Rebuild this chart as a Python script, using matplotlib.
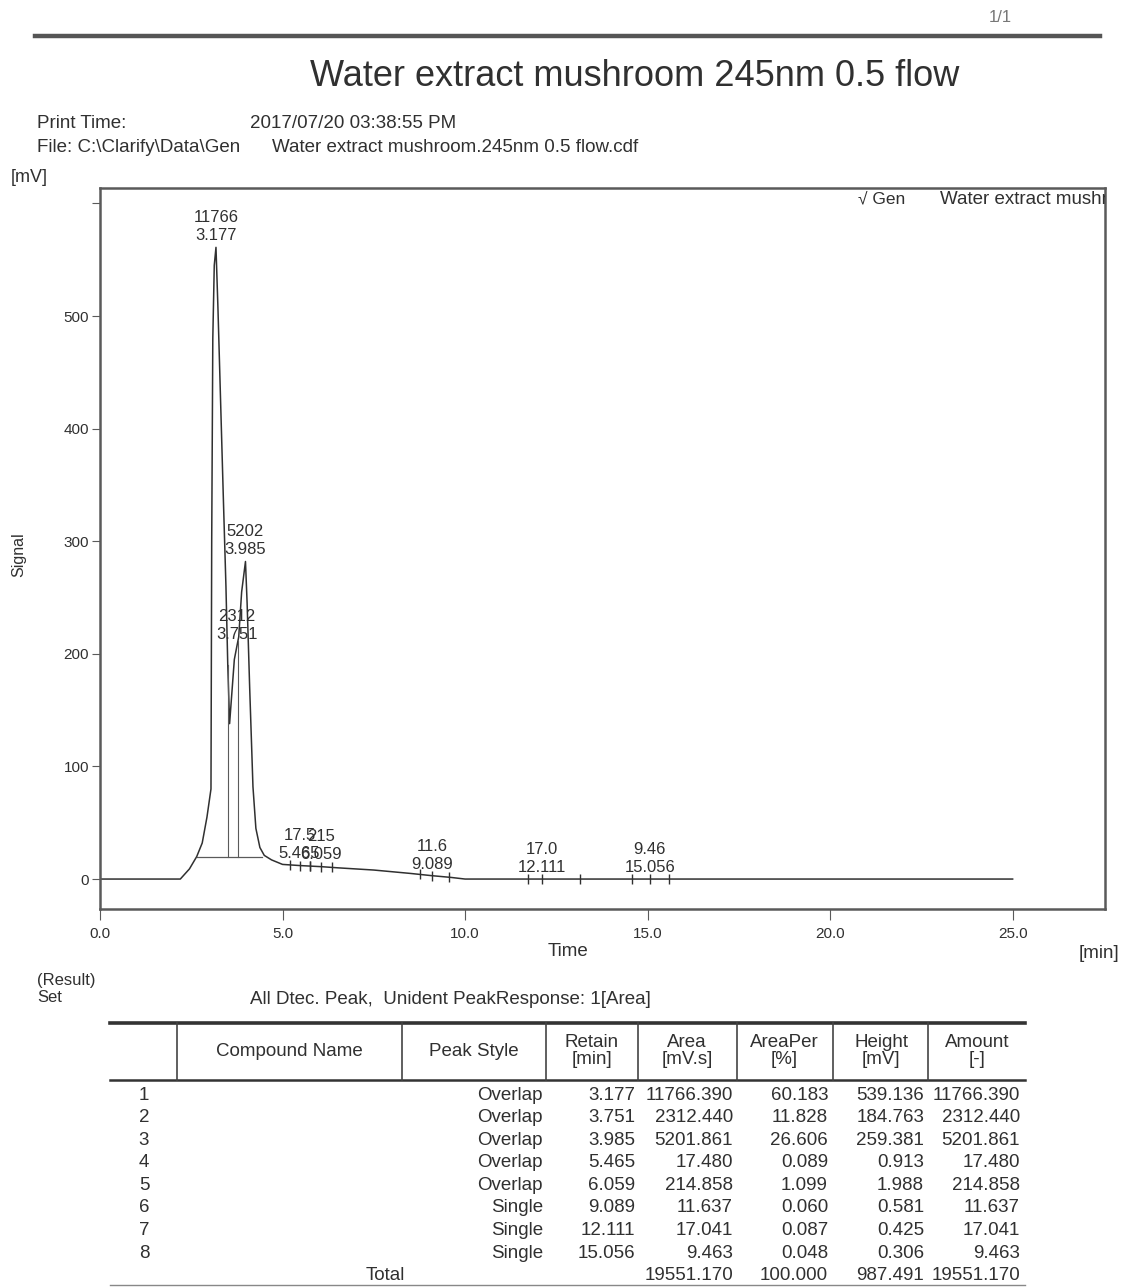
import matplotlib.pyplot as plt
import numpy as np

plt.rcParams['font.family'] = ['Liberation Sans', 'DejaVu Sans']

W, H = 1127, 1287

# chromatogram trace (min, mV)
trace_t = [0.0, 2.2, 2.45, 2.65, 2.8, 2.93, 3.04, 3.06, 3.09, 3.13, 3.177, 3.23,
           3.28, 3.33, 3.38, 3.45, 3.5, 3.55, 3.6, 3.68, 3.751, 3.8, 3.88, 3.985,
           4.03, 4.1, 4.19, 4.27, 4.38, 4.5, 4.7, 5.0, 5.465, 6.059, 6.5, 7.5,
           8.5, 9.089, 9.6, 10.0, 25.0]
trace_s = [0, 0, 9, 20, 32, 55, 80, 300, 480, 545, 561, 508,
           451, 394, 337, 260, 190, 138, 160, 195, 207, 215, 255, 282,
           245, 170, 82, 45, 28, 21, 17, 13, 12, 11, 10, 8,
           5, 3, 1.5, 0, 0]

# peak table
peak_no = [1, 2, 3, 4, 5, 6, 7, 8]
peak_style = ['Overlap', 'Overlap', 'Overlap', 'Overlap', 'Overlap', 'Single', 'Single', 'Single']
retain = [3.177, 3.751, 3.985, 5.465, 6.059, 9.089, 12.111, 15.056]
area = [11766.390, 2312.440, 5201.861, 17.480, 214.858, 11.637, 17.041, 9.463]
area_per = [60.183, 11.828, 26.606, 0.089, 1.099, 0.060, 0.087, 0.048]
height = [539.136, 184.763, 259.381, 0.913, 1.988, 0.581, 0.425, 0.306]
amount = [11766.390, 2312.440, 5201.861, 17.480, 214.858, 11.637, 17.041, 9.463]
totals = ['19551.170', '100.000', '987.491', '19551.170']

# integration marks
base_start, base_end, base_level = 2.65, 4.45, 20
drop_t = [3.50, 3.78]
small_bounds = [(5.2, 5.75), (5.75, 6.35), (8.77, 9.56), (11.73, 13.15), (14.58, 15.59)]
small_rt = [5.465, 6.059, 9.089, 12.111, 15.056]

ink = '#303030'
grey = '#5a5a5a'
fs = 13.5


def fx(px):
    return px / W


def fy(py):
    return 1 - py / H


def short(a):
    if a >= 1000:
        return '{:.0f}'.format(a)
    return '{:#.3g}'.format(a).rstrip('.')


fig = plt.figure(figsize=(W / 100, H / 100), dpi=100)

# page header
fig.text(fx(1000), fy(18), '1/1', fontsize=12, color='#777', ha='center', va='center')
fig.add_artist(plt.Line2D([fx(35), fx(1100)], [fy(36), fy(36)], transform=fig.transFigure,
                          color='#555', lw=3.2))
fig.text(fx(635), fy(77), 'Water extract mushroom 245nm 0.5 flow', fontsize=26, color=ink,
         ha='center', va='center')
fig.text(fx(37), fy(123), 'Print Time:', fontsize=fs, color=ink, va='center')
fig.text(fx(250), fy(123), '2017/07/20 03:38:55 PM', fontsize=fs, color=ink, va='center')
fig.text(fx(37), fy(147), 'File: C:\\Clarify\\Data\\Gen', fontsize=fs, color=ink, va='center')
fig.text(fx(272), fy(147), 'Water extract mushroom.245nm 0.5 flow.cdf', fontsize=fs, color=ink,
         va='center')
fig.text(fx(11), fy(177), '[mV]', fontsize=13, color=ink, va='center')
fig.text(fx(19), fy(555), 'Signal', fontsize=11.5, color=ink, va='center', ha='center', rotation=90)

# chromatogram
ax = fig.add_axes([fx(100), fy(909), fx(1105) - fx(100), fy(188) - fy(909)])
ax.plot(trace_t, trace_s, color=ink, lw=1.1)
ax.set_xlim(0, 27.53)
ax.set_ylim(-26.6, 613.7)

ax.plot([base_start, base_end], [base_level, base_level], color=grey, lw=0.9)
for t in drop_t:
    ax.plot([t, t], [base_level, np.interp(t, trace_t, trace_s)], color=grey, lw=0.8)

for (a, b), r in zip(small_bounds, small_rt):
    for t in (a, r, b):
        ax.plot(t, np.interp(t, trace_t, trace_s), marker='|', ms=7, mew=1.0, color=ink)

for r, a in zip(retain, area):
    top = np.interp(r, trace_t, trace_s)
    ax.annotate(short(a) + '\n' + '{:.3f}'.format(r), (r, top), xytext=(0, 3),
                textcoords='offset points', ha='center', va='bottom', fontsize=12,
                color=ink, linespacing=1.25)

ax.text(fx(858), fy(199), '\u221a Gen', transform=fig.transFigure, fontsize=12.5, color=ink,
        va='center', clip_on=True)
ax.text(fx(940), fy(199), 'Water extract mushroom 245nm 0.5 flow', transform=fig.transFigure,
        fontsize=13.5, color=ink, va='center', clip_on=True)

ax.set_xticks([0, 5, 10, 15, 20, 25])
ax.set_xticklabels(['0.0', '5.0', '10.0', '15.0', '20.0', '25.0'])
ax.set_yticks([0, 100, 200, 300, 400, 500, 600])
ax.set_yticklabels(['0', '100', '200', '300', '400', '500', ''])
ax.tick_params(axis='both', direction='out', colors=grey, labelcolor=ink, labelsize=11)
ax.tick_params(axis='x', length=8, pad=5)
ax.tick_params(axis='y', length=6, pad=2)
for s in ax.spines.values():
    s.set_color(grey)
    s.set_linewidth(1.8)

fig.text(fx(568), fy(952), 'Time', fontsize=fs, color=ink, ha='center', va='center')
fig.text(fx(1099), fy(953), '[min]', fontsize=fs, color=ink, ha='center', va='center')

# result block
fig.text(fx(37), fy(981), '(Result)', fontsize=12, color=ink, va='center')
fig.text(fx(37), fy(998), 'Set', fontsize=12, color=ink, va='center')
fig.text(fx(250), fy(999), 'All Dtec. Peak,  Unident PeakResponse: 1[Area]', fontsize=fs,
         color=ink, va='center')


def hline(y, x0, x1, lw, c='#333'):
    fig.add_artist(plt.Line2D([fx(x0), fx(x1)], [fy(y), fy(y)], transform=fig.transFigure,
                              color=c, lw=lw))


hline(1023, 110, 1025, 2.6)
hline(1080, 110, 1025, 1.8)
hline(1285, 110, 1025, 1.0, '#888')
for x in [177, 402, 546, 638, 737, 833, 928]:
    fig.add_artist(plt.Line2D([fx(x), fx(x)], [fy(1023), fy(1080)], transform=fig.transFigure,
                              color='#444', lw=1.2))

headers = ['Compound Name', 'Peak Style', 'Retain\n[min]', 'Area\n[mV.s]', 'AreaPer\n[%]',
           'Height\n[mV]', 'Amount\n[-]']
head_x = [289, 474, 592, 687, 784, 881, 977]
for hx, h in zip(head_x, headers):
    fig.text(fx(hx), fy(1051), h, fontsize=fs, color=ink, ha='center', va='center',
             linespacing=0.95)

row_y = 1095
step = 22.6
cols_right = [543, 635, 733, 828, 924, 1020]
for i in range(len(peak_no)):
    y = fy(row_y + i * step)
    fig.text(fx(144), y, str(peak_no[i]), fontsize=fs, color=ink, ha='center', va='center')
    vals = [peak_style[i], '{:.3f}'.format(retain[i]), '{:.3f}'.format(area[i]),
            '{:.3f}'.format(area_per[i]), '{:.3f}'.format(height[i]), '{:.3f}'.format(amount[i])]
    for cx, v in zip(cols_right, vals):
        fig.text(fx(cx), y, v, fontsize=fs, color=ink, ha='right', va='center')

y = fy(row_y + 8 * step)
fig.text(fx(385), y, 'Total', fontsize=fs, color=ink, ha='center', va='center')
for cx, v in zip(cols_right[2:], totals):
    fig.text(fx(cx), y, v, fontsize=fs, color=ink, ha='right', va='center')

fig.savefig('out.png', dpi=100)
